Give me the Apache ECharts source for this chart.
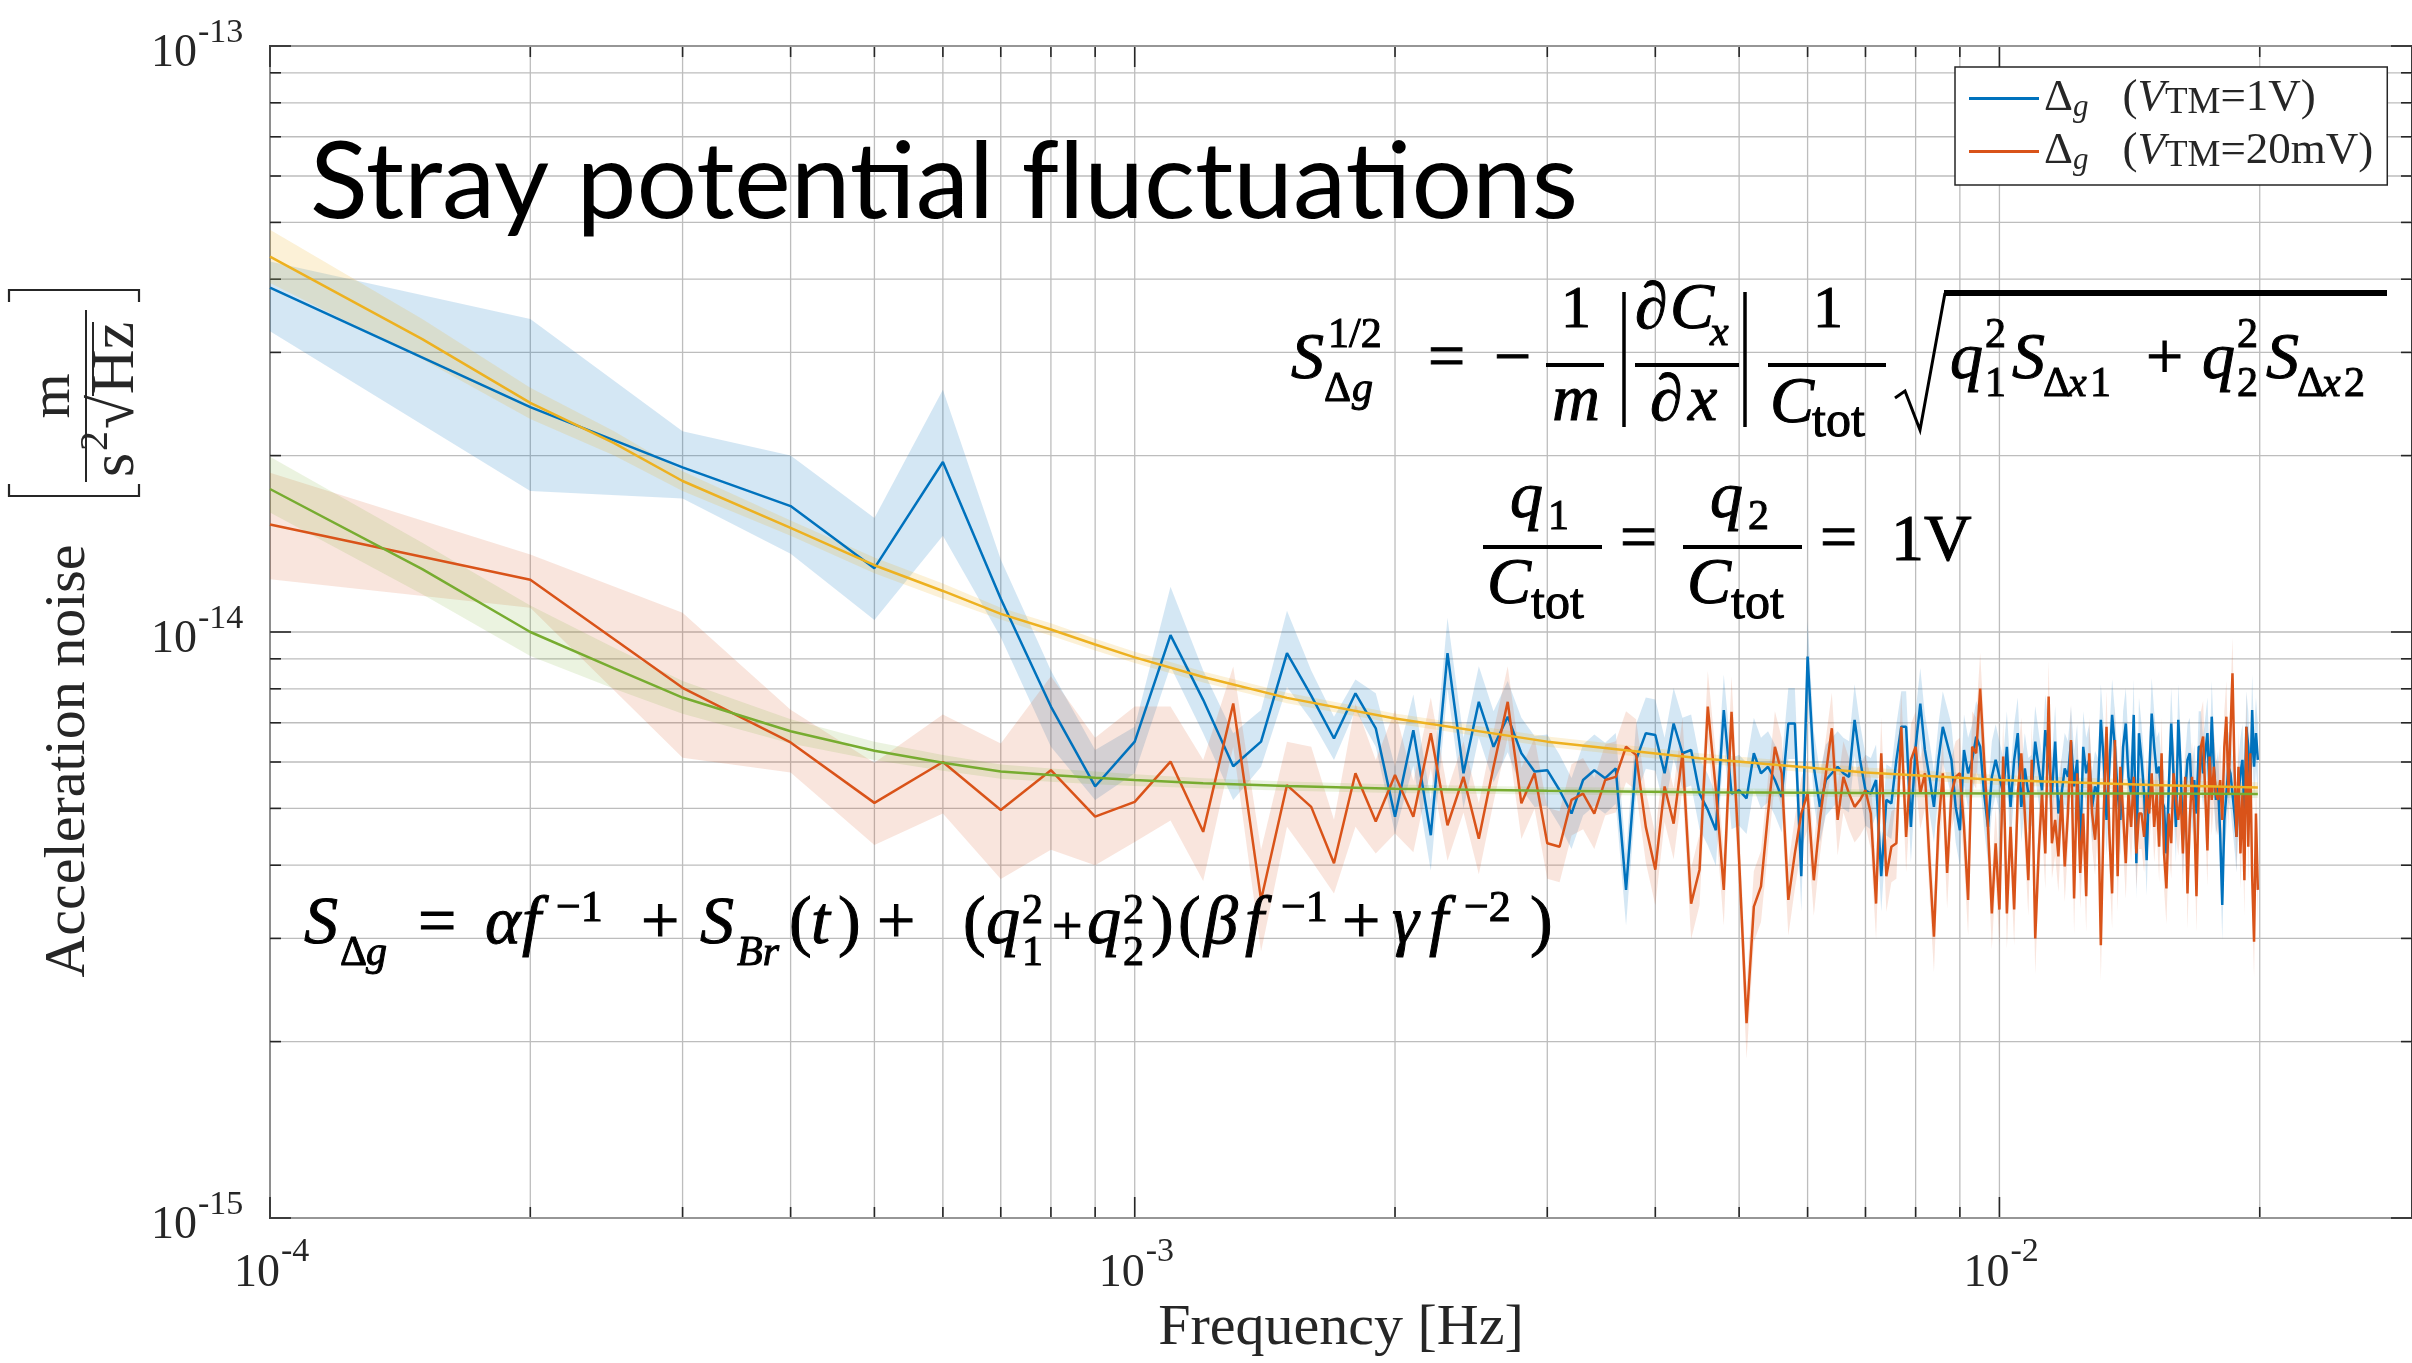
<!DOCTYPE html>
<html><head><meta charset="utf-8">
<script src="https://cdn.jsdelivr.net/npm/echarts@6/dist/echarts.min.js"></script>
<style>html,body{margin:0;padding:0;background:#fff}#c{width:2412px;height:1363px}</style>
</head><body><div id="c"></div>
<script>
// ---------------- DATA (values in units of 1e-15 m s^-2 Hz^-1/2) ----------------
const UNIT = 1e-15;
const binWidthHz = 1e-4;              // frequency bins: k * 0.1 mHz, k = 1..199
// Delta_g, V_TM = 1 V (blue)
const blue = [
 38.7,24.2,19.1,16.4,12.85,19.5,11.4,7.46,5.45,6.5, 9.88,7.66,5.9,6.5,9.2,7.79,6.58,7.86,6.85,4.84,
 6.80,4.50,9.20,5.74,7.60,6.37,7.17,6.21,5.78,5.81, 5.37,4.90,5.59,5.81,5.63,5.85,3.63,6.05,6.72,6.67,
 5.74,6.98,6.21,6.29,5.30,4.97,4.59,7.36,5.30,5.37, 5.20,6.21,5.74,5.89,5.59,5.23,6.98,6.98,3.83,9.08,
 5.89,5.03,5.59,5.74,5.89,5.74,5.66,7.08,6.05,5.37, 5.30,5.59,3.83,5.17,5.10,6.05,6.89,6.89,4.65,6.37,
 7.55,6.29,5.66,5.03,6.05,6.89,6.46,6.05,5.03,4.59, 6.29,5.74,6.05,6.63,6.37,5.30,4.65,5.66,6.05,5.66,
 5.30,6.37,5.03,6.05,6.72,5.03,5.85,5.30,5.37,6.50, 5.89,5.37,6.80,6.05,5.30,6.50,4.90,5.30,5.85,5.66,
 6.50,5.45,6.05,4.24,6.37,5.74,6.05,5.03,5.45,5.30, 7.08,6.05,4.78,5.89,7.22,6.37,5.30,4.78,6.37,6.98,
 5.66,5.30,7.22,4.03,6.72,6.05,5.30,4.08,5.66,7.26, 6.37,5.74,5.89,5.17,5.03,4.19,5.45,6.98,5.66,4.65,
 7.08,5.89,4.42,5.30,6.05,6.21,5.17,5.59,4.90,6.37, 6.37,5.74,6.21,6.72,5.30,7.17,5.89,5.17,5.45,4.53,
 3.42,4.78,5.30,5.89,5.74,5.30,4.90,4.47,5.30,5.74, 6.05,4.90,6.89,6.37,5.30,7.36,5.89,6.72,6.05
];
// Delta_g, V_TM = 20 mV (orange)
const orange = [
 15.26,12.28,8.03,6.48,5.11,6.0,4.97,5.81,4.84,5.13, 6.01,4.56,7.55,3.49,5.48,5.03,4.03,5.74,4.75,5.70,
 4.84,6.72,4.68,5.66,4.44,5.89,7.60,5.10,5.74,4.36, 4.30,5.17,5.30,4.90,5.59,5.66,6.37,6.17,4.65,3.93,
 5.45,4.71,6.21,3.44,3.93,7.46,5.37,3.63,7.31,4.08, 2.15,3.40,3.68,4.90,6.37,5.74,3.49,4.19,4.90,5.30,
 3.77,4.78,5.74,6.85,4.78,5.66,5.30,5.03,5.17,5.37, 4.90,3.44,6.21,3.83,4.30,4.36,6.89,4.47,6.05,6.37,
 5.30,5.74,4.08,3.02,4.65,5.74,3.88,5.30,5.66,5.74, 4.65,3.49,6.37,6.21,8.01,6.05,4.65,3.31,4.36,3.36,
 6.13,3.31,4.65,3.36,5.30,6.21,4.90,3.77,6.05,3.00, 4.19,5.30,4.19,7.76,4.36,4.78,4.14,5.30,3.98,4.90,
 6.54,3.51,5.74,3.88,4.90,3.54,6.21,4.90,4.42,5.30, 2.92,4.90,6.89,4.53,3.58,6.54,3.83,5.89,4.90,4.03,
 5.30,4.65,5.66,4.19,4.90,4.90,4.47,5.30,4.90,5.74, 4.65,5.30,4.30,6.21,4.19,3.65,4.90,4.36,5.74,5.17,
 4.78,5.30,4.19,5.66,3.58,4.78,5.66,4.90,3.54,5.30, 6.37,6.63,5.30,4.24,6.13,5.17,5.89,5.30,5.17,5.59,
 4.78,6.37,7.17,5.30,6.72,8.50,5.89,4.47,5.89,4.19, 5.30,3.77,6.89,4.30,6.21,3.83,2.96,4.90,3.63
];
// shaded uncertainty bands, first 20 bins read individually
const blueHi20   = [42.9,34.2,22.0,20.0,15.65,25.9,13.3,8.6,6.29,6.89,11.95,8.6,6.72,7.36,10.87,8.6,7.17,8.3,7.86,5.89];
const blueLo20   = [32.6,17.4,16.9,13.6,10.48,14.6,9.8,6.37,5.17,5.74,8.73,6.72,5.17,5.89,8.06,7.08,6.05,7.36,6.37,4.53];
const orangeHi20 = [18.7,13.56,10.79,7.37,5.98,7.23,6.45,8.4,6.6,7.46,7.46,6.05,8.73,4.25,6.5,6.37,4.78,7.55,6.05,7.36];
const orangeLo20 = [12.3,11.0,6.1,5.76,4.33,4.9,3.79,4.25,4.0,4.38,4.77,3.76,6.37,2.85,4.65,4.08,3.58,4.65,4.19,4.53];
const bandFactorHighFreq = 1.15;      // band half-width (ratio) read above 2 mHz

// model fits (yellow: 1 V, green: 20 mV), sampled at bins
const fitBins   = [1,1.5,2,2.5,3,4,5,6,7,8,9,10,12,15,20,30,45,70,100,150,199];
const yellowFit = [43.7,31.6,24.6,21.0,18.1,15.06,13.0,11.75,10.74,10.1,9.52,9.05,8.38,7.72,7.12,6.5,6.09,5.76,5.59,5.48,5.43];
const yellowHi  = [48.6,34.2,26.1,22.0,18.8,15.5,13.4,12.1,11.0,10.35,9.74,9.25,8.56,7.88,7.26,6.63,6.21,5.87,5.70,5.59,5.54];
const yellowLo  = [39.4,29.2,23.1,20.0,17.4,14.6,12.6,11.4,10.5,9.85,9.30,8.85,8.20,7.56,6.98,6.37,5.97,5.65,5.48,5.37,5.32];
const greenFit  = [17.54,12.8,10.0,8.67,7.73,6.77,6.27,5.98,5.78,5.70,5.64,5.59,5.52,5.46,5.40,5.36,5.33,5.31,5.30,5.30,5.29];
const greenHi   = [19.9,14.2,11.1,9.4,8.25,7.1,6.5,6.17,5.94,5.85,5.78,5.72,5.63,5.56,5.49,5.44,5.41,5.39,5.38,5.38,5.37];
const greenLo   = [16.0,11.6,9.1,8.0,7.25,6.45,6.05,5.80,5.62,5.55,5.50,5.46,5.41,5.36,5.31,5.28,5.25,5.23,5.22,5.22,5.21];

// axes
const xRange = [1e-4, 0.03], yRange = [1e-15, 1e-13];
const xMajor = [1e-4, 1e-3, 1e-2];
const xMinor = [2e-4,3e-4,4e-4,5e-4,6e-4,7e-4,8e-4,9e-4,2e-3,3e-3,4e-3,5e-3,6e-3,7e-3,8e-3,9e-3,2e-2];
const yMajor = [1e-15, 1e-14, 1e-13];
const yMinor = [2e-15,3e-15,4e-15,5e-15,6e-15,7e-15,8e-15,9e-15,2e-14,3e-14,4e-14,5e-14,6e-14,7e-14,8e-14,9e-14];
const S1 = 'Δg (VTM=1V)', S2 = 'Δg (VTM=20mV)';

// ---------------- styling ----------------
const C_BLUE='#0072BD', C_ORANGE='#D95319', C_YELLOW='#EDB120', C_GREEN='#77AC30';
const GRIDC='#bdbdbd', AX='#262626', TXT='#262626';
const SERIF='"Liberation Serif","Times New Roman",serif';
const R90 = Math.PI/2;

function T(text, x, base, size, o) {
  o = o || {};
  const font = (o.italic ? 'italic ' : '') + size + 'px ' + (o.family || SERIF);
  const al = o.align || 'left';
  const st = {text:text, font:font, fill:o.color||'#000', textFill:o.color||'#000',
      align:al, textAlign:al, verticalAlign:'middle', textVerticalAlign:'middle'};
  if (o.heavy) { st.stroke = '#000'; st.textStroke = '#000'; st.lineWidth = o.heavy; st.textStrokeWidth = o.heavy; }
  return {type:'text', x:x, y:base - 0.34*size, z:100, silent:true, style:st};
}
// math glyph helper (slightly heavier strokes, like the equation-editor font)
function MT(text, x, base, size, o) { o = Object.assign({heavy:1}, o || {}); return T(text, x, base, size, o); }
// rotated (reads bottom-to-top), centred at (cx, cy), cx = em-middle
function TR(text, cx, cy, size, o) {
  o = o || {};
  const font = (o.italic ? 'italic ' : '') + size + 'px ' + SERIF;
  return {type:'text', x:cx, y:cy, rotation:R90, z:100, silent:true,
    style:{text:text, font:font, fill:TXT, textFill:TXT,
      align:'center', textAlign:'center', verticalAlign:'middle', textVerticalAlign:'middle'}};
}
function L(x1,y1,x2,y2,w,c){return {type:'line',z:100,silent:true,shape:{x1,y1,x2,y2},style:{stroke:c||'#000',lineWidth:w||4}};}
function P(points,w,c){return {type:'polyline',z:100,silent:true,shape:{points},style:{stroke:c||'#000',lineWidth:w||3,fill:null}};}

const freq = blue.map((_, i) => (i + 1) * binWidthHz);
const fitFreq = fitBins.map(k => k * binWidthHz);
const toPts = (fs, vs) => fs.map((f, i) => [f, vs[i] * UNIT]);
function bandRows(fs, lo, hi){ return fs.map((f,i)=>[f, lo[i]*UNIT, hi[i]*UNIT]); }
const blueBand = freq.map((f,i)=> i<20 ? [f, blueLo20[i]*UNIT, blueHi20[i]*UNIT]
                                       : [f, blue[i]*UNIT/bandFactorHighFreq, blue[i]*UNIT*bandFactorHighFreq]);
const orangeBand = freq.map((f,i)=> i<20 ? [f, orangeLo20[i]*UNIT, orangeHi20[i]*UNIT]
                                       : [f, orange[i]*UNIT/bandFactorHighFreq, orange[i]*UNIT*bandFactorHighFreq]);

function bandSeries(rows, fill){
  return {type:'custom', coordinateSystem:'cartesian2d', silent:true, clip:true, z:2,
    encode:{x:0, y:[1,2]}, data:rows,
    renderItem:function(params, api){
      if (params.dataIndexInside !== 0) return null;
      const up=[], lo=[];
      for (let j=0;j<rows.length;j++){
        const f = api.value(0,j);
        up.push(api.coord([f, api.value(2,j)]));
        lo.push(api.coord([f, api.value(1,j)]));
      }
      return {type:'polygon', shape:{points: up.concat(lo.reverse())}, style:{fill:fill, stroke:null}};
    }};
}
function lineSeries(name, pts, color, width, z){
  return {name, type:'line', data:pts, showSymbol:false, symbol:'none', smooth:false,
    z:z||3, lineStyle:{color, width:width||2.5}, itemStyle:{color}, emphasis:{disabled:true}};
}

// grid lines + ticks (through the axis scale)
const xTickRows = xMajor.map(v=>[v,1e-14,1]).concat(xMinor.map(v=>[v,1e-14,0]));
const yTickRows = yMajor.map(v=>[1e-3,v,1]).concat(yMinor.map(v=>[1e-3,v,0]));
const gridX = {type:'custom', silent:true, clip:false, z:1, data:xTickRows, encode:{x:0,y:1},
  renderItem:function(params, api){
    const cs=params.coordSys, x=api.coord([api.value(0),api.value(1)])[0];
    const t = api.value(2) ? 21 : 11, top=cs.y, bot=cs.y+cs.height;
    return {type:'group', children:[
      {type:'line',shape:{x1:x,y1:top,x2:x,y2:bot},style:{stroke:GRIDC,lineWidth:1.3}},
      {type:'line',shape:{x1:x,y1:bot,x2:x,y2:bot-t},style:{stroke:AX,lineWidth:1.6}},
      {type:'line',shape:{x1:x,y1:top,x2:x,y2:top+t},style:{stroke:AX,lineWidth:1.6}}]};
  }};
const gridY = {type:'custom', silent:true, clip:false, z:1, data:yTickRows, encode:{x:0,y:1},
  renderItem:function(params, api){
    const cs=params.coordSys, y=api.coord([api.value(0),api.value(1)])[1];
    const t = api.value(2) ? 21 : 11, l=cs.x, r=cs.x+cs.width;
    return {type:'group', children:[
      {type:'line',shape:{x1:l,y1:y,x2:r,y2:y},style:{stroke:GRIDC,lineWidth:1.3}},
      {type:'line',shape:{x1:l,y1:y,x2:l+t,y2:y},style:{stroke:AX,lineWidth:1.6}},
      {type:'line',shape:{x1:r,y1:y,x2:r-t,y2:y},style:{stroke:AX,lineWidth:1.6}}]};
  }};
// tick labels 10^n
const xLab = {type:'custom', silent:true, clip:false, z:5, data:xMajor.map(v=>[v,1e-15]), encode:{x:0,y:1},
  renderItem:function(params, api){
    const p=api.coord([api.value(0),api.value(1)]), e=Math.round(Math.log10(api.value(0)));
    return {type:'group', children:[
      T('10', p[0]+10, p[1]+72, 46, {align:'right', color:TXT}),
      T(String(e), p[0]+11, p[1]+46, 34, {color:TXT})]};
  }};
const yLab = {type:'custom', silent:true, clip:false, z:5, data:yMajor.map(v=>[1e-4,v]), encode:{x:0,y:1},
  renderItem:function(params, api){
    const p=api.coord([api.value(0),api.value(1)]), e=Math.round(Math.log10(api.value(1)));
    return {type:'group', children:[
      T('10', p[0]-73, p[1]+24, 46, {align:'right', color:TXT}),
      T(String(e), p[0]-72, p[1]-1, 34, {color:TXT})]};
  }};

// ---------------- annotations ----------------
const M = 66, SC = 42;  // math main / script sizes
const I = {italic:1};
const graphics = [
  // title (ZWNJ keeps letters unligated as in the original)
  T('Stray poten\u200Ctial f\u200Cluctuations', 310, 220, 107, {family:'Lato,"Open Sans",sans-serif'}),
  // y axis name
  TR('Acceleration noise', 69, 761, 58),
  P([[9,484],[9,496],[139,496],[139,484]], 2.2, TXT),
  P([[9,302],[9,290],[139,290],[139,302]], 2.2, TXT),
  TR('m', 54, 396, 58),
  L(86, 310, 86, 482, 2, TXT),
  TR('s', 117, 465, 62),
  TR('2', 96, 441, 40),
  TR('√', 117, 412, 62),
  TR('Hz', 117, 358, 62),
  L(93, 396, 93, 322, 2, TXT),
  // equation 1
  MT('S', 1291, 383, M, I),
  MT('1/2', 1328, 350, SC),
  MT('Δ', 1324, 404, SC), MT('g', 1352, 404, SC, I),
  MT('=', 1428, 383, M),
  MT('−', 1494, 383, M),
  MT('1', 1576, 332, 60, {align:'center'}), L(1546,365,1604,365,4),
  MT('m', 1576, 425, M, {italic:1, align:'center'}),
  L(1624,292,1624,427,3.5), L(1745,292,1745,427,3.5),
  MT('∂', 1635, 333, M), MT('C', 1670, 333, M, I), MT('x', 1710, 348, SC, I),
  L(1635,365,1739,365,4),
  MT('∂', 1650, 425, M), MT('x', 1688, 425, M, I),
  MT('1', 1828, 332, 60, {align:'center'}), L(1768,365,1886,365,4),
  MT('C', 1770, 427, M, I), MT('tot', 1812, 440, 50),
  P([[1895,398],[1905,391],[1920,430],[1945,293]], 3),
  L(1944,293,2387,293,6),
  MT('q', 1950, 383, M, I), MT('2', 1985, 350, SC), MT('1', 1985, 399, SC),
  MT('S', 2012, 383, M, I), MT('Δ', 2043, 399, SC), MT('x', 2068, 399, SC, I), MT('1', 2090, 399, SC),
  MT('+', 2146, 383, M),
  MT('q', 2202, 383, M, I), MT('2', 2237, 350, SC), MT('2', 2237, 399, SC),
  MT('S', 2266, 383, M, I), MT('Δ', 2297, 399, SC), MT('x', 2322, 399, SC, I), MT('2', 2344, 399, SC),
  // equation 2
  MT('q', 1510, 522, M, I), MT('1', 1548, 532, SC),
  L(1483,547,1602,547,4),
  MT('C', 1487, 608, M, I), MT('tot', 1531, 622, 50),
  MT('=', 1620, 564, M),
  MT('q', 1710, 522, M, I), MT('2', 1748, 532, SC),
  L(1683,547,1802,547,4),
  MT('C', 1687, 608, M, I), MT('tot', 1731, 622, 50),
  MT('=', 1820, 564, M),
  MT('1V', 1891, 565, M),
  // equation 3
  MT('S', 304, 948, 68, I), MT('Δ', 340, 968, SC), MT('g', 366, 968, SC, I),
  MT('=', 418, 948, 68),
  MT('α', 485, 948, 68, I), MT('f', 522, 948, 68, I), MT('−1', 556, 924, 44),
  MT('+', 641, 948, 68),
  MT('S', 700, 948, 68, I), MT('Br', 737, 968, SC, I),
  MT('(', 789, 948, 68), MT('t', 811, 948, 68, I), MT(')', 838, 948, 68),
  MT('+', 877, 948, 68),
  MT('(', 963, 948, 68), MT('q', 986, 948, 68, I), MT('2', 1022, 926, SC), MT('1', 1022, 968, SC),
  MT('+', 1052, 948, 54),
  MT('q', 1087, 948, 68, I), MT('2', 1123, 926, SC), MT('2', 1123, 968, SC),
  MT(')', 1151, 948, 68), MT('(', 1178, 948, 68),
  MT('β', 1204, 948, 68, I), MT('f', 1245, 948, 68, I), MT('−1', 1281, 924, 44),
  MT('+', 1342, 948, 68),
  MT('γ', 1392, 948, 68, I), MT('f', 1429, 948, 68, I), MT('−2', 1464, 924, 44),
  MT(')', 1530, 948, 68)
];

const legendRich = {
  d:{fontFamily:SERIF,fontSize:45,color:TXT,lineHeight:46},
  gi:{fontFamily:SERIF,fontStyle:'italic',fontSize:31,color:TXT,verticalAlign:'bottom',lineHeight:46,height:28},
  sp:{fontFamily:SERIF,fontSize:45,lineHeight:46,width:34},
  vi:{fontFamily:SERIF,fontStyle:'italic',fontSize:45,color:TXT,lineHeight:46},
  tm:{fontFamily:SERIF,fontSize:37,color:TXT,verticalAlign:'bottom',lineHeight:46,height:36},
  r:{fontFamily:SERIF,fontSize:45,color:TXT,lineHeight:46}
};

const option = {
  animation:false,
  backgroundColor:'#fff',
  grid:{left:270, right:0, top:46, bottom:145, show:true, borderColor:AX, borderWidth:1.8, backgroundColor:'transparent'},
  xAxis:{type:'log', logBase:10, min:xRange[0], max:xRange[1],
    axisLine:{show:false}, axisTick:{show:false}, axisLabel:{show:false}, splitLine:{show:false},
    name:'Frequency [Hz]', nameLocation:'middle', nameGap:82,
    nameTextStyle:{fontFamily:SERIF, fontSize:58, color:TXT}},
  yAxis:{type:'log', logBase:10, min:yRange[0], max:yRange[1],
    axisLine:{show:false}, axisTick:{show:false}, axisLabel:{show:false}, splitLine:{show:false}},
  legend:{
    data:[{name:S1, icon:'rect'},{name:S2, icon:'rect'}],
    orient:'vertical', left:1955, top:67, itemWidth:70, itemHeight:3, itemGap:6,
    padding:[9,14,9,14], backgroundColor:'#fff', borderColor:AX, borderWidth:1.5, borderRadius:0,
    selectedMode:false,
    textStyle:{fontFamily:SERIF, fontSize:45, color:TXT, rich:legendRich},
    formatter:function(n){
      const v = n===S1 ? '=1V)' : '=20mV)';
      return '{d|Δ}{gi|g}{sp| }{r|(}{vi|V}{tm|TM}{r|'+v+'}';
    }
  },
  graphic:{elements:graphics},
  series:[
    gridX, gridY, xLab, yLab,
    bandSeries(blueBand, 'rgba(0,114,189,0.17)'),
    bandSeries(orangeBand, 'rgba(217,83,25,0.15)'),
    bandSeries(bandRows(fitFreq, yellowLo, yellowHi), 'rgba(237,177,32,0.18)'),
    bandSeries(bandRows(fitFreq, greenLo, greenHi), 'rgba(119,172,48,0.15)'),
    lineSeries(S1, toPts(freq, blue), C_BLUE, 2.5, 3),
    lineSeries(S2, toPts(freq, orange), C_ORANGE, 2.5, 3),
    lineSeries('fit 1V', toPts(fitFreq, yellowFit), C_YELLOW, 2.5, 4),
    lineSeries('fit 20mV', toPts(fitFreq, greenFit), C_GREEN, 2.5, 4)
  ]
};
const chart = echarts.init(document.getElementById('c'), null, {renderer:'canvas', width:2412, height:1363});
chart.setOption(option);
</script></body></html>
